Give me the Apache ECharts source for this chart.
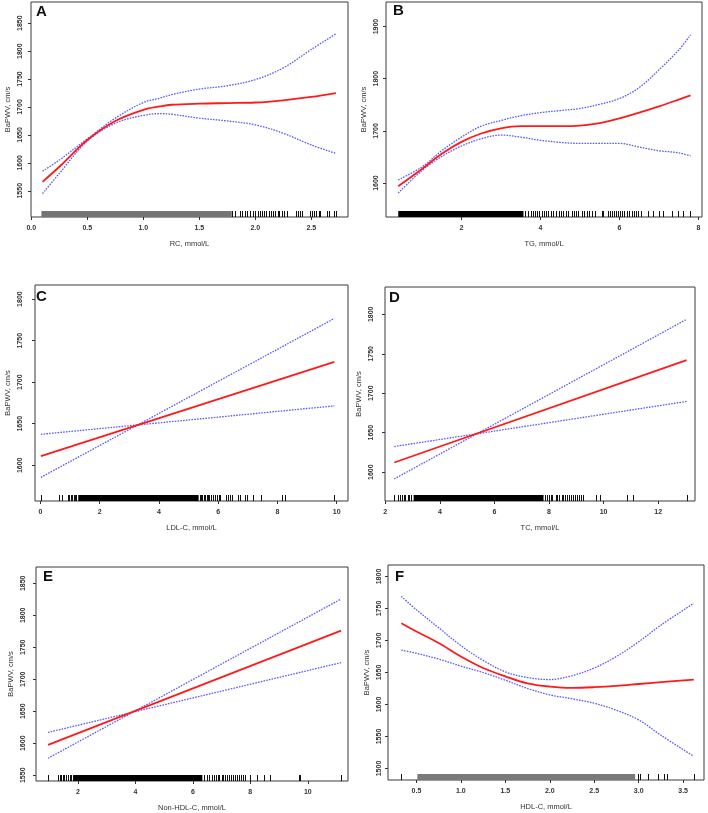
<!DOCTYPE html>
<html><head><meta charset="utf-8">
<script src="https://cdn.jsdelivr.net/npm/echarts@6/dist/echarts.min.js"></script>
<style>html,body{margin:0;padding:0;background:#fff}#c{width:708px;height:813px}</style>
</head><body><div id="c"></div>
<script>
// ---------- DATA ----------
// Panel A : RC
const aX     = [0.1, 0.25, 0.5, 0.75, 1.0, 1.15, 1.25, 1.5, 1.75, 2.0, 2.25, 2.5, 2.72];
const aFit   = [1566, 1593, 1641, 1675, 1695, 1701, 1704, 1706, 1707, 1708, 1712, 1718, 1725];
const aUpper = [1585, 1605, 1643, 1680, 1708, 1716, 1722, 1732, 1738, 1749, 1770, 1803, 1831];
const aLower = [1545, 1581, 1639, 1671, 1685, 1688, 1687, 1680, 1675, 1668, 1653, 1632, 1617];
const aRugDense = [[0.09, 1.79]];
const aRug = [1.79,1.82,1.86,1.88,1.91,1.93,1.95,1.98,2.00,2.02,2.04,2.06,2.08,2.10,2.12,2.14,2.16,2.18,2.20,2.21,2.24,2.26,2.28,2.36,2.38,2.40,2.42,2.49,2.51,2.52,2.54,2.57,2.58,2.64,2.66,2.70,2.72];
// Panel B : TG
const bX     = [0.4, 1.0, 1.5, 2.0, 2.5, 3.0, 3.5, 4.0, 4.5, 5.0, 5.5, 6.0, 6.5, 7.0, 7.5, 7.8];
const bFit   = [1594, 1627, 1656, 1679, 1695, 1705, 1709, 1709, 1709, 1710, 1715, 1724, 1735, 1747, 1760, 1768];
const bUpper = [1606, 1631, 1662, 1688, 1709, 1720, 1729, 1735, 1739, 1743, 1751, 1762, 1783, 1817, 1855, 1884];
const bLower = [1581, 1624, 1651, 1671, 1685, 1692, 1688, 1682, 1678, 1676, 1676, 1676, 1669, 1662, 1658, 1652];
const bRugDense = [[0.4, 3.57]];
const bRug = [3.61,3.68,3.75,3.80,3.85,3.92,3.97,4.03,4.08,4.13,4.20,4.27,4.33,4.39,4.46,4.51,4.58,4.65,4.71,4.79,4.84,4.89,4.96,5.05,5.11,5.17,5.23,5.30,5.38,5.55,5.59,5.70,5.76,5.81,5.86,5.91,5.96,6.01,6.06,6.11,6.18,6.24,6.31,6.36,6.41,6.48,6.55,6.73,6.86,6.99,7.11,7.32,7.49,7.62,7.79];
// Panel C : LDL-C
const cX     = [0.02, 9.92];
const cFit   = [1611, 1724.5];
const cUpper = [1585.5, 1776.7];
const cLower = [1637.3, 1671.5];
const cRugDense = [[1.28, 5.34]];
const cRug = [0.02,0.64,0.73,0.94,0.98,1.03,1.07,1.12,1.16,1.21,5.38,5.43,5.47,5.52,5.56,5.61,5.66,5.70,5.75,5.81,5.88,5.95,6.02,6.06,6.26,6.33,6.40,6.47,6.66,6.74,6.92,6.96,7.19,7.43,8.15,8.25,9.92];
// Panel D : TC
const dX     = [2.33, 13.04];
const dFit   = [1612.3, 1742];
const dUpper = [1591.5, 1793.6];
const dLower = [1632.5, 1689.6];
const dRugDense = [[3.04, 7.80]];
const dRug = [2.33,2.45,2.54,2.60,2.67,2.74,2.82,2.86,2.94,7.87,7.92,7.99,8.07,8.12,8.24,8.31,8.38,8.46,8.53,8.58,8.65,8.73,8.80,8.87,8.95,9.02,9.09,9.17,9.24,9.74,9.86,10.86,11.08,13.04];
// Panel E : Non-HDL-C
const eX     = [0.96, 11.16];
const eFit   = [1597.4, 1776];
const eUpper = [1576.6, 1825.5];
const eLower = [1617, 1726];
const eRugDense = [[1.83, 6.33]];
const eRug = [0.96,1.30,1.36,1.42,1.48,1.53,1.59,1.65,1.71,1.77,6.39,6.48,6.56,6.66,6.74,6.81,6.87,6.92,7.01,7.06,7.13,7.20,7.27,7.34,7.41,7.48,7.55,7.62,7.69,7.76,7.83,8.00,8.23,8.46,8.67,9.68,9.74,11.15];
// Panel F : HDL-C
const fX     = [0.33, 0.5, 0.75, 1.0, 1.25, 1.5, 1.75, 2.0, 2.25, 2.5, 2.75, 3.0, 3.25, 3.62];
const fFit   = [1727, 1714, 1696, 1675, 1657, 1644, 1633, 1628, 1626, 1627, 1629, 1632, 1635, 1639];
const fUpper = [1769, 1748, 1720, 1692, 1669, 1651, 1642, 1639, 1645, 1657, 1675, 1698, 1724, 1758];
const fLower = [1685, 1680, 1671, 1660, 1650, 1638, 1625, 1615, 1609, 1602, 1591, 1576, 1552, 1519];
const fRugDense = [[0.51, 2.96]];
const fRug = [0.33,2.99,3.02,3.11,3.22,3.29,3.32,3.62];

// tick labels
const xTicksA = [0, 0.5, 1.0, 1.5, 2.0, 2.5];
const xTicksB = [2, 4, 6, 8];
const xTicksC = [0, 2, 4, 6, 8, 10];
const xTicksD = [2, 4, 6, 8, 10, 12];
const xTicksE = [2, 4, 6, 8, 10];
const xTicksF = [0.5, 1.0, 1.5, 2.0, 2.5, 3.0, 3.5];
const yTicksA = [1550, 1600, 1650, 1700, 1750, 1800, 1850];
const yTicksB = [1600, 1700, 1800, 1900];
const yTicksC = [1600, 1650, 1700, 1750, 1800];
const yTicksD = [1600, 1650, 1700, 1750, 1800];
const yTicksE = [1550, 1600, 1650, 1700, 1750, 1800, 1850];
const yTicksF = [1500, 1550, 1600, 1650, 1700, 1750, 1800];

const letters = ['A', 'B', 'C', 'D', 'E', 'F'];
const xTitles = ['RC, mmol/L', 'TG, mmol/L', 'LDL-C, mmol/L', 'TC, mmol/L', 'Non-HDL-C, mmol/L', 'HDL-C, mmol/L'];
const yTitle = 'BaPWV, cm/s';

// ---------- LAYOUT ----------
const panels = [
  {x: aX, fit: aFit, up: aUpper, lo: aLower, dense: aRugDense, rug: aRug, xt: xTicksA, yt: yTicksA, dec: 1,
   grid: {left: 31, top: 2, width: 317, height: 215}, xr: [-0.003, 2.828], yr: [1503, 1888], ym: 7, denseColor: '#747474', lx: 36, ly: 12},
  {x: bX, fit: bFit, up: bUpper, lo: bLower, dense: bRugDense, rug: bRug, xt: xTicksB, yt: yTicksB, dec: 0,
   grid: {left: 386, top: 2, width: 316, height: 215}, xr: [0.09, 8.09], yr: [1535, 1947], ym: 6, denseColor: '#000', lx: 393, ly: 11},
  {x: cX, fit: cFit, up: cUpper, lo: cLower, dense: cRugDense, rug: cRug, xt: xTicksC, yt: yTicksC, dec: 0,
   grid: {left: 35, top: 285, width: 313, height: 216}, xr: [-0.18, 10.38], yr: [1557, 1817], ym: 11, denseColor: '#000', lx: 36, ly: 297},
  {x: dX, fit: dFit, up: dUpper, lo: dLower, dense: dRugDense, rug: dRug, xt: xTicksD, yt: yTicksD, dec: 0,
   grid: {left: 385, top: 287, width: 310, height: 214}, xr: [1.99, 13.35], yr: [1563.5, 1834.6], ym: 10, denseColor: '#000', lx: 389, ly: 298},
  {x: eX, fit: eFit, up: eUpper, lo: eLower, dense: eRugDense, rug: eRug, xt: xTicksE, yt: yTicksE, dec: 0,
   grid: {left: 36, top: 567, width: 312, height: 214}, xr: [0.54, 11.4], yr: [1541, 1875.5], ym: 9, denseColor: '#000', lx: 43, ly: 577},
  {x: fX, fit: fFit, up: fUpper, lo: fLower, dense: fRugDense, rug: fRug, xt: xTicksF, yt: yTicksF, dec: 1,
   grid: {left: 388, top: 565, width: 316, height: 215}, xr: [0.18, 3.735], yr: [1482, 1818], ym: 5, denseColor: '#7a7a7a', lx: 395, ly: 577}
];

const FONT = 'Liberation Sans, Arial, sans-serif';
const grid = [], xAxis = [], yAxis = [], series = [], graphic = [];
const zip = (xs, ys) => xs.map((v, i) => [v, ys[i]]);

panels.forEach((p, i) => {
  grid.push(Object.assign({show: true, borderColor: '#3a3a3a', borderWidth: 1, backgroundColor: '#fff', containLabel: false, outerBoundsMode: 'none'}, p.grid));
  xAxis.push({
    type: 'value', gridIndex: i, min: p.xr[0], max: p.xr[1], position: 'bottom',
    axisLine: {show: false, onZero: false}, splitLine: {show: false},
    axisTick: {show: true, customValues: p.xt, length: 3, inside: false, lineStyle: {color: '#333'}},
    axisLabel: {customValues: p.xt, margin: 8, fontSize: 7, fontWeight: 'bold', fontFamily: FONT, color: '#333',
      formatter: v => v.toFixed(p.dec)},
    name: xTitles[i], nameLocation: 'middle', nameGap: 23,
    nameTextStyle: {fontSize: 7.5, fontFamily: FONT, color: '#333'}
  });
  yAxis.push({
    type: 'value', gridIndex: i, min: p.yr[0], max: p.yr[1], position: 'left',
    axisLine: {show: false, onZero: false}, splitLine: {show: false},
    axisTick: {show: true, customValues: p.yt, length: 3, inside: false, lineStyle: {color: '#333'}},
    axisLabel: {customValues: p.yt, margin: p.ym, rotate: 90, fontSize: 7, fontWeight: 'bold', fontFamily: FONT, color: '#333',
      formatter: v => String(Math.round(v))},
    name: yTitle, nameLocation: 'middle', nameGap: p.ym + 12, nameRotate: 90,
    nameTextStyle: {fontSize: 7.5, fontFamily: FONT, color: '#333'}
  });
  // rug dense bands
  series.push({
    type: 'custom', xAxisIndex: i, yAxisIndex: i, silent: true, clip: true,
    data: p.dense,
    renderItem: (params, api) => {
      const cs = params.coordSys;
      const bottom = cs.y + cs.height;
      const x1 = api.coord([api.value(0), p.yr[0]])[0];
      const x2 = api.coord([api.value(1), p.yr[0]])[0];
      return {type: 'rect', shape: {x: x1, y: bottom - 6, width: x2 - x1, height: 6}, style: {fill: p.denseColor}};
    }
  });
  // rug individual marks
  series.push({
    type: 'custom', xAxisIndex: i, yAxisIndex: i, silent: true, clip: true,
    data: p.rug.map(v => [v]),
    renderItem: (params, api) => {
      const cs = params.coordSys;
      const bottom = cs.y + cs.height;
      const x = Math.round(api.coord([api.value(0), p.yr[0]])[0]) + 0.5;
      return {type: 'line', shape: {x1: x, y1: bottom, x2: x, y2: bottom - 6}, style: {stroke: '#111', lineWidth: 1}};
    }
  });
  const ciStyle = {color: '#5a5aff', width: 1.3, type: [1.6, 1.2]};
  series.push({type: 'line', xAxisIndex: i, yAxisIndex: i, data: zip(p.x, p.up), smooth: 0.35, showSymbol: false, silent: true, lineStyle: ciStyle, z: 3});
  series.push({type: 'line', xAxisIndex: i, yAxisIndex: i, data: zip(p.x, p.lo), smooth: 0.35, showSymbol: false, silent: true, lineStyle: ciStyle, z: 3});
  series.push({type: 'line', xAxisIndex: i, yAxisIndex: i, data: zip(p.x, p.fit), smooth: 0.35, showSymbol: false, silent: true, lineStyle: {color: '#ff1a1a', width: 1.8}, z: 4});
  graphic.push({type: 'text', left: p.lx, top: p.ly - 8, z: 10,
    style: {text: letters[i], fontSize: 15, fontWeight: 'bold', fontFamily: FONT, fill: '#111'}});
});

const chart = echarts.init(document.getElementById('c'), null, {renderer: 'canvas'});
chart.setOption({animation: false, backgroundColor: '#fff', grid, xAxis, yAxis, series, graphic});
</script>
</body></html>
